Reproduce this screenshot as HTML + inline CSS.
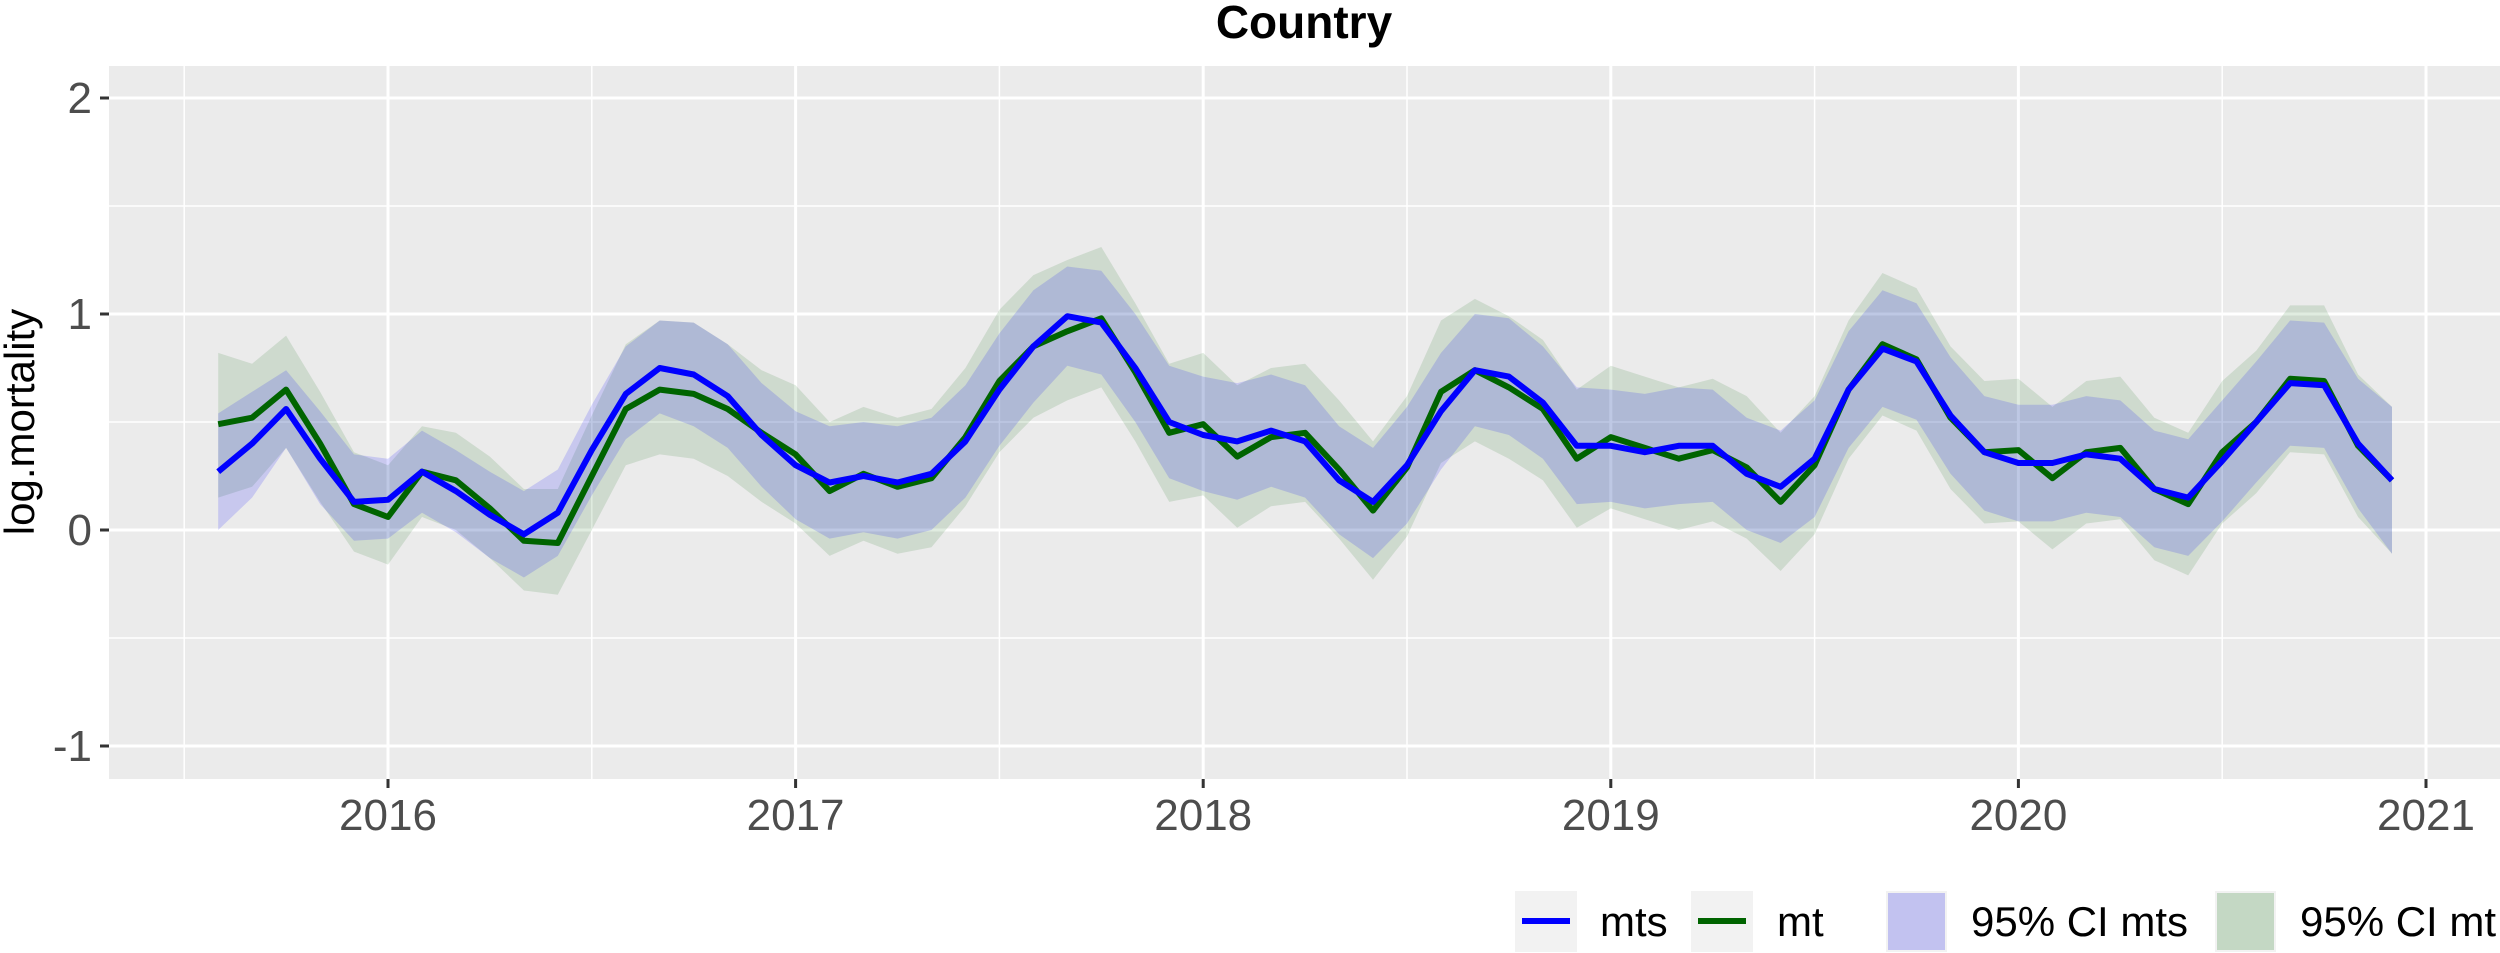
<!DOCTYPE html>
<html><head><meta charset="utf-8"><style>
html,body{margin:0;padding:0;background:#fff;}
svg{display:block;font-family:"Liberation Sans",Arial,sans-serif;}
</style></head><body>
<svg id="chart" width="2500" height="953" viewBox="0 0 2500 953" xmlns="http://www.w3.org/2000/svg">
<text x="1304" y="38" text-anchor="middle" font-size="46" font-weight="bold" fill="#000">Country</text>
<rect x="109" y="66" width="2391" height="713" fill="#ebebeb"/>
<g id="grid"></g>
<g id="bands"></g>
<g id="lines"></g>
<g id="axes"></g>
<text transform="translate(34,422) rotate(-90)" text-anchor="middle" font-size="42" fill="#000">log.mortality</text>
<g>
  <rect x="1515" y="891" width="62" height="61" fill="#f2f2f2"/>
  <line x1="1522" y1="921" x2="1570" y2="921" stroke="#0000ff" stroke-width="6"/>
  <text x="1600" y="936" font-size="42">mts</text>
  <rect x="1691" y="891" width="62" height="61" fill="#f2f2f2"/>
  <line x1="1698" y1="921" x2="1746" y2="921" stroke="#006400" stroke-width="6"/>
  <text x="1777" y="936" font-size="42">mt</text>
  <rect x="1887" y="892" width="59" height="59" fill="#c2c2f0" stroke="#f2f2f2" stroke-width="2"/>
  <text x="1971" y="936" font-size="42">95% CI mts</text>
  <rect x="2216" y="892" width="59" height="59" fill="#c4d8c4" stroke="#f2f2f2" stroke-width="2"/>
  <text x="2300" y="936" font-size="42">95% CI mt</text>
</g>
</svg>
<script>
const startYear = 2015 + 7/12; // Aug 2015
const mts = [.27,.40,.56,.33,.13, .14,.27,.18,.07,-.02,.08,.37,.63,.75,.72,.62,.44, .30,.22,.25,.22,.26,.41,.65,.85,.99,.96,.75,.50, .44,.41,.46,.41,.23,.13,.30,.55,.74,.71,.59,.39, .39,.36,.39,.39,.26,.20,.33,.65,.84,.78,.53,.36, .31,.31,.35,.33,.19,.15,.32,.50,.68,.67,.40,.23];
const mtsHi = [.54,.64,.74,.55,.35, .33,.46,.37,.27,.18,.28,.58,.85,.97,.96,.86,.68, .55,.48,.50,.48,.52,.67,.91,1.11,1.22,1.20,1.00,.76, .71,.68,.72,.67,.48,.38,.57,.82,1.00,.98,.85,.66, .65,.63,.66,.65,.52,.46,.60,.92,1.11,1.05,.80,.62, .58,.58,.62,.60,.46,.42,.60,.78,.97,.96,.70,.57];
const mtsLo = [.00,.15,.38,.12,-.05, -.04,.08,-.01,-.13,-.22,-.12,.16,.42,.54,.48,.38,.20, .05,-.04,-.01,-.04,.00,.15,.39,.59,.76,.72,.50,.24, .18,.14,.20,.15,-.02,-.13,.03,.28,.48,.44,.33,.12, .13,.10,.12,.13,.00,-.06,.06,.38,.57,.51,.26,.09, .04,.04,.08,.06,-.08,-.12,.04,.22,.39,.38,.10,-.11];
const mt = [.49,.52,.65,.40,.12, .06,.27,.23,.10,-.05,-.06,.25,.56,.65,.63,.56,.45, .35,.18,.26,.20,.24,.43,.69,.85,.92,.98,.73,.45, .49,.34,.43,.45,.28,.09,.29,.64,.74,.66,.56,.33, .43,.38,.33,.37,.29,.13,.30,.65,.86,.79,.52,.36, .37,.24,.36,.38,.19,.12,.36,.50,.70,.69,.39,.23];
const mtHi = [.82,.77,.90,.64,.36, .30,.48,.45,.34,.19,.19,.53,.86,.97,.96,.86,.74, .67,.50,.57,.52,.56,.75,1.02,1.18,1.25,1.31,1.05,.77, .82,.67,.75,.77,.60,.41,.62,.97,1.07,.99,.88,.65, .76,.71,.66,.70,.62,.45,.62,.97,1.19,1.12,.85,.69, .70,.57,.69,.71,.52,.45,.69,.83,1.04,1.04,.72,.57];
const mtLo = [.15,.20,.38,.13,-.10, -.16,.06,.00,-.13,-.28,-.30,.00,.30,.35,.33,.25,.13, .03,-.12,-.05,-.11,-.08,.11,.36,.52,.60,.66,.41,.13, .16,.01,.11,.13,-.04,-.23,-.03,.31,.41,.33,.23,.01, .10,.05,.00,.04,-.04,-.19,-.02,.33,.53,.46,.19,.03, .04,-.09,.03,.05,-.14,-.21,.03,.17,.36,.35,.06,-.11];
const xTicks = [2016,2017,2018,2019,2020,2021];
const yTicks = [-1,0,1,2];

const NS = "http://www.w3.org/2000/svg";
const X = yr => 388 + (yr - 2016) * 407.6;
const Y = v => 530 - v * 216;
const tOf = i => startYear + i / 12;
function mk(tag, attrs, parent){ const e=document.createElementNS(NS,tag); for(const k in attrs) e.setAttribute(k,attrs[k]); parent.appendChild(e); return e; }
const grid=document.getElementById('grid'), bands=document.getElementById('bands'), lines=document.getElementById('lines'), axes=document.getElementById('axes');
// minor grid
for (let v=-0.5; v<=1.5; v+=1){ const l=mk('line',{x1:109,x2:2500,y1:Y(v),y2:Y(v),stroke:'#fff','stroke-width':1.5},grid);

 }
for (let yr=2015.5; yr<2021.6; yr+=1){ const l=mk('line',{x1:X(yr),x2:X(yr),y1:66,y2:779,stroke:'#fff','stroke-width':1.5},grid);

 }
yTicks.forEach(v=>{ const l=mk('line',{x1:109,x2:2500,y1:Y(v),y2:Y(v),stroke:'#fff','stroke-width':3},grid);


const t=mk('line',{x1:100,x2:109,y1:Y(v),y2:Y(v),stroke:'#333','stroke-width':3},axes);


const tx=mk('text',{x:92,y:Y(v)+15,'text-anchor':'end','font-size':44,fill:'#4d4d4d'},axes); tx.textContent=String(v).replace('-','-');

 });
xTicks.forEach(yr=>{ const l=mk('line',{x1:X(yr),x2:X(yr),y1:66,y2:779,stroke:'#fff','stroke-width':3},grid);


const t=mk('line',{x1:X(yr),x2:X(yr),y1:779,y2:788,stroke:'#333','stroke-width':3},axes);


const tx=mk('text',{x:X(yr),y:830,'text-anchor':'middle','font-size':44,fill:'#4d4d4d'},axes); tx.textContent=yr;

 });
function band(lo,hi,fill,name){ let d=''; hi.forEach((v,i)=>{d+=(i?'L':'M')+X(tOf(i)).toFixed(1)+','+Y(v).toFixed(1);}); for(let i=lo.length-1;i>=0;i--) d+='L'+X(tOf(i)).toFixed(1)+','+Y(lo[i]).toFixed(1); d+='Z';
const p=mk('path',{d:d,fill:fill},bands);

 }
function line(vals,col,name){ const pts=vals.map((v,i)=>X(tOf(i)).toFixed(1)+','+Y(v).toFixed(1)).join(' ');
const p=mk('polyline',{points:pts,fill:'none',stroke:col,'stroke-width':6,'stroke-linejoin':'round'},lines);

 }
band(mtLo,mtHi,'rgba(0,100,0,0.12)','ci-band-mt');
band(mtsLo,mtsHi,'rgba(0,0,255,0.15)','ci-band-mts');
line(mt,'#006400','line-mt');
line(mts,'#0000ff','line-mts');
</script>
</body></html>
